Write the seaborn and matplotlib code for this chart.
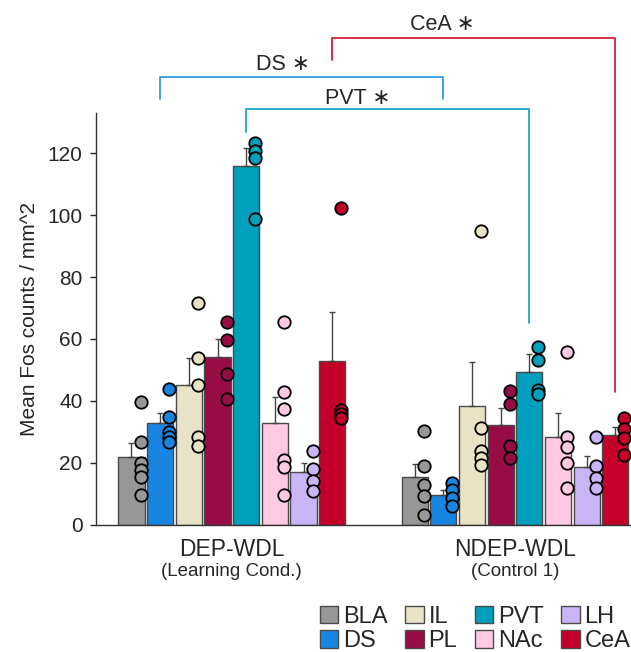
import numpy as np
import pandas as pd
import matplotlib
matplotlib.use("Agg")
import matplotlib.pyplot as plt
import seaborn as sns

groups = ["DEP-WDL", "NDEP-WDL"]
subtitles = ["(Learning Cond.)", "(Control 1)"]
regions = ["BLA", "DS", "IL", "PL", "PVT", "NAc", "LH", "CeA"]
colours = {"BLA": "#979797", "DS": "#1886e0", "IL": "#e9e3c5", "PL": "#980c45",
           "PVT": "#009fbb", "NAc": "#ffc8e3", "LH": "#c9b5f6", "CeA": "#c4002a"}

# bar heights and upper error
mean_dep = [21.8, 33.0, 45.2, 54.1, 115.8, 32.8, 16.9, 53.0]
mean_ndep = [15.3, 9.7, 38.5, 32.3, 49.3, 28.4, 18.6, 28.9]
err_dep = [4.5, 3.0, 8.6, 5.8, 5.7, 8.6, 3.0, 15.6]
err_ndep = [4.5, 1.6, 14.2, 5.3, 5.8, 7.6, 3.7, 2.8]

# individual animals
pts_dep = {"BLA": [39.8, 26.8, 19.9, 17.7, 15.3, 9.7],
           "DS": [44.0, 34.7, 30.1, 28.5, 26.8],
           "IL": [71.5, 54.0, 45.2, 28.2, 25.3],
           "PL": [65.6, 59.7, 48.6, 40.6],
           "PVT": [123.1, 120.8, 118.3, 98.6],
           "NAc": [65.6, 43.0, 37.3, 21.0, 18.8, 9.7],
           "LH": [24.0, 18.1, 14.2, 10.8],
           "CeA": [102.2, 37.1, 35.8, 34.4]}
pts_ndep = {"BLA": [30.4, 19.1, 12.9, 9.4, 3.2],
            "DS": [13.4, 11.1, 8.6, 6.1],
            "IL": [94.9, 31.3, 24.0, 21.5, 19.3],
            "PL": [43.2, 38.9, 25.3, 21.5],
            "PVT": [57.5, 53.2, 43.5, 42.3],
            "NAc": [55.9, 28.2, 25.1, 20.1, 12.0],
            "LH": [28.4, 19.0, 15.1, 11.8],
            "CeA": [34.4, 31.0, 28.0, 22.4]}

df = pd.DataFrame({"group": [groups[0]] * 8 + [groups[1]] * 8,
                   "region": regions * 2,
                   "mean": mean_dep + mean_ndep})

sns.set_style("ticks")
plt.rcParams["font.family"] = ["Liberation Sans", "DejaVu Sans"]

fig = plt.figure(figsize=(6.31, 6.52), dpi=100)
ax = fig.add_axes([0.152, 0.195, 0.846, 0.632])

sns.barplot(data=df, x="group", y="mean", hue="region", hue_order=regions,
            palette=colours, saturation=1, width=0.81, gap=0.09,
            edgecolor="#4a4a4a", linewidth=1, errorbar=None, ax=ax)

centres = {}
for r, cont in zip(regions, ax.containers):
    centres[r] = [b.get_x() + b.get_width() / 2 for b in cont]

for gi, (means, errs, pts) in enumerate([(mean_dep, err_dep, pts_dep),
                                          (mean_ndep, err_ndep, pts_ndep)]):
    for i, r in enumerate(regions):
        x = centres[r][gi]
        ax.errorbar(x, means[i], yerr=[[0], [errs[i]]], fmt="none",
                    ecolor="#444444", elinewidth=1, capsize=2.5, capthick=1, zorder=1)
        p = pts[r]
        ax.scatter([x + 0.032] * len(p), p, s=80, color=colours[r],
                   edgecolors="black", linewidths=1.3, zorder=4, clip_on=False)

# significance brackets
brackets = [("CeA", "#d4213d", 157.2, 150.2, 43.0, 0.39, 159.7),
            ("DS", "#3399dd", 144.6, 137.6, 137.6, 0.435, 146.8),
            ("PVT", "#1aa8c8", 134.1, 126.9, 65.2, 0.394, 136.0)]
for r, c, ytop, yl, yr, frac, ytxt in brackets:
    x0, x1 = centres[r][0], centres[r][1]
    ax.plot([x0, x0, x1, x1], [yl, ytop, ytop, yr], color=c, lw=1.3,
            clip_on=False, zorder=5)
    ax.text(x0 + frac * (x1 - x0), ytxt, r + " \u2217", ha="center",
            va="baseline", fontsize=15.5)

ax.set_xlim(-0.48, 1.405)
ax.set_ylim(0, 133)
ax.set_yticks(np.arange(0, 121, 20))
ax.tick_params(axis="y", labelsize=15, length=4.5, width=1, pad=5)
ax.tick_params(axis="x", length=0, labelbottom=False)
ax.set_xlabel("")
ax.set_ylabel("Mean Fos counts / mm^2", fontsize=15, labelpad=6)
sns.despine(ax=ax)
for s in ["left", "bottom"]:
    ax.spines[s].set_linewidth(1)
    ax.spines[s].set_color("#333333")

for gi, g in enumerate(groups):
    ax.text(gi, -0.06, g, transform=ax.get_xaxis_transform(), ha="center",
            va="center", fontsize=16.5)
    ax.text(gi, -0.112, subtitles[gi], transform=ax.get_xaxis_transform(),
            ha="center", va="center", fontsize=13.5)

handles, labels = ax.get_legend_handles_labels()
if ax.get_legend() is not None:
    ax.get_legend().remove()
fig.legend(handles, labels, ncol=4, loc="upper left", bbox_to_anchor=(0.507, 0.071),
           frameon=False, fontsize=17, handlelength=0.78, handleheight=0.78,
           handletextpad=0.2, columnspacing=0.75, labelspacing=0.1,
           borderpad=0, borderaxespad=0)

fig.savefig("out.png", dpi=100)
